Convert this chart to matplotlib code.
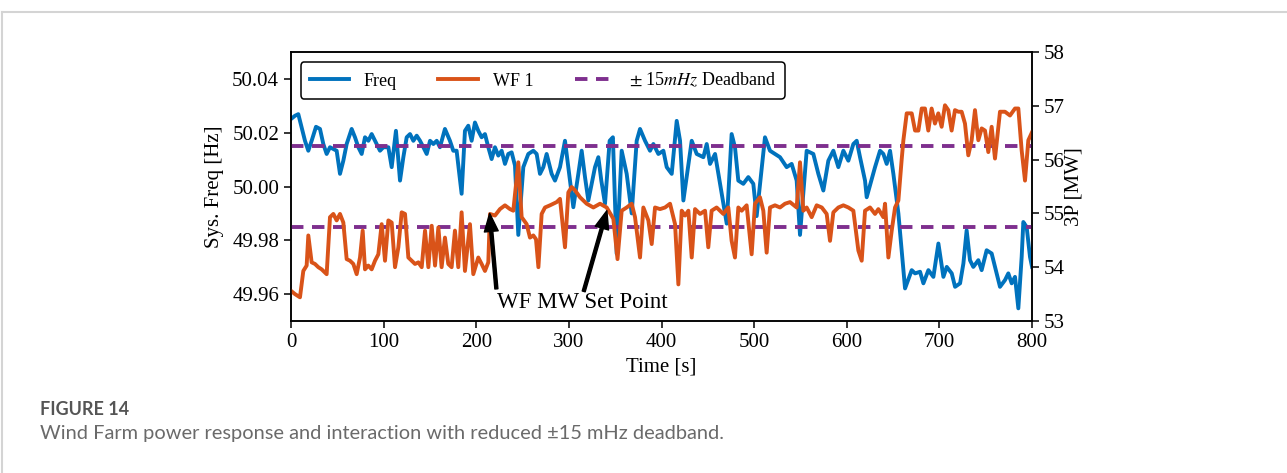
import numpy as np
import matplotlib
matplotlib.use("Agg")
import matplotlib.pyplot as plt
from matplotlib.lines import Line2D

plt.rcParams['font.family'] = ['Liberation Serif', 'DejaVu Serif']
plt.rcParams['mathtext.fontset'] = 'stix'

# system frequency [Hz]
t_freq = [0.0, 4.3, 7.9, 11.5, 15.1, 18.7, 22.3, 27.0, 31.3, 34.9, 38.5, 42.1, 49.3, 52.9,
          56.5, 60.1, 65.5, 69.1, 72.7, 76.3, 79.9, 83.5, 87.1, 92.5, 96.1, 99.7, 105.1,
          108.7, 113.3, 117.7, 121.3, 124.9, 128.5, 132.1, 135.7, 139.3, 142.9, 146.5,
          150.1, 153.7, 157.3, 160.8, 166.2, 171.6, 175.2, 178.8, 184.2, 187.8, 191.4,
          195.0, 198.6, 202.2, 205.8, 209.4, 213.0, 216.6, 220.2, 223.8, 227.4, 231.0,
          234.6, 238.2, 241.8, 245.4, 250.8, 256.2, 261.6, 265.2, 268.8, 272.4, 276.0,
          281.4, 285.0, 290.4, 295.8, 299.4, 304.8, 310.2, 313.8, 317.4, 321.0, 328.2,
          331.8, 335.0, 339.0, 344.0, 347.5, 351.6, 357.0, 362.4, 367.8, 373.2, 376.8,
          382.2, 387.6, 391.2, 396.6, 402.0, 405.6, 411.0, 416.4, 420.0, 423.6, 432.6,
          438.0, 445.2, 448.8, 452.4, 457.8, 463.2, 470.4, 475.7, 479.3, 482.9, 488.3,
          493.7, 499.1, 502.7, 511.7, 517.1, 522.5, 527.9, 535.1, 540.5, 545.9, 549.5,
          556.7, 563.9, 569.3, 574.7, 580.1, 585.5, 590.9, 596.3, 601.7, 607.1, 610.7,
          614.3, 619.7, 621.5, 630.5, 635.9, 639.5, 643.1, 646.7, 650.3, 655.7, 662.9,
          670.1, 673.7, 679.1, 682.7, 688.1, 693.5, 698.9, 704.3, 707.9, 713.3, 716.9,
          722.3, 725.9, 729.4, 733.0, 736.6, 742.0, 745.6, 751.0, 756.4, 761.8, 765.4,
          770.8, 774.4, 778.0, 781.6, 785.2, 788.8, 790.6, 794.2, 797.8, 800.0]
freq = [50.0251, 50.0263, 50.0269, 50.0220, 50.0170, 50.0133, 50.0170, 50.0222, 50.0214,
        50.0158, 50.0121, 50.0146, 50.0133, 50.0047, 50.0096, 50.0158, 50.0214, 50.0183,
        50.0146, 50.0121, 50.0183, 50.0170, 50.0195, 50.0158, 50.0133, 50.0146, 50.0146,
        50.0072, 50.0207, 50.0022, 50.0109, 50.0183, 50.0195, 50.0170, 50.0189, 50.0170,
        50.0146, 50.0121, 50.0170, 50.0158, 50.0170, 50.0146, 50.0214, 50.0170, 50.0133,
        50.0133, 49.9973, 50.0207, 50.0226, 50.0170, 50.0238, 50.0207, 50.0183, 50.0195,
        50.0146, 50.0102, 50.0146, 50.0115, 50.0133, 50.0084, 50.0121, 50.0127, 50.0078,
        49.9820, 50.0072, 50.0121, 50.0133, 50.0121, 50.0047, 50.0072, 50.0121, 50.0047,
        50.0022, 50.0072, 50.0170, 50.0072, 49.9923, 50.0047, 50.0133, 50.0035, 49.9948,
        50.0072, 50.0109, 50.0022, 49.9936, 50.0170, 50.0183, 49.9750, 50.0133, 50.0047,
        49.9900, 50.0170, 50.0214, 50.0170, 50.0133, 50.0158, 50.0121, 50.0133, 50.0072,
        50.0047, 50.0244, 50.0170, 49.9948, 50.0170, 50.0121, 50.0109, 50.0158, 50.0084,
        50.0121, 50.0010, 49.9862, 50.0195, 50.0146, 50.0022, 50.0010, 50.0035, 50.0010,
        49.9890, 50.0183, 50.0133, 50.0121, 50.0109, 50.0072, 50.0084, 50.0022, 49.9820,
        50.0133, 50.0121, 50.0047, 49.9985, 50.0096, 50.0133, 50.0072, 50.0133, 50.0096,
        50.0158, 50.0170, 50.0109, 50.0022, 49.9960, 50.0072, 50.0133, 50.0121, 50.0084,
        50.0133, 50.0047, 49.9900, 49.9621, 49.9689, 49.9677, 49.9683, 49.9640, 49.9689,
        49.9664, 49.9788, 49.9664, 49.9701, 49.9677, 49.9627, 49.9640, 49.9714, 49.9837,
        49.9726, 49.9701, 49.9726, 49.9689, 49.9763, 49.9751, 49.9677, 49.9627, 49.9652,
        49.9677, 49.9640, 49.9664, 49.9547, 49.9738, 49.9868, 49.9849, 49.9738, 49.9701]

# wind farm output [MW]
t_wf = [0.0, 4.3, 9.7, 13.3, 16.9, 18.7, 22.3, 25.9, 29.5, 33.1, 38.5, 42.1, 45.7, 49.3,
        52.9, 56.5, 60.1, 63.7, 67.3, 70.9, 74.5, 77.4, 79.9, 83.5, 87.1, 90.7, 94.3,
        97.9, 101.5, 105.1, 108.7, 112.3, 115.9, 119.5, 123.1, 126.7, 130.3, 133.9,
        137.5, 141.1, 144.7, 148.3, 151.9, 155.5, 159.1, 162.6, 166.2, 169.8, 173.4,
        177.0, 180.6, 184.2, 187.8, 193.2, 196.8, 202.2, 205.8, 209.4, 213.0, 214.8,
        220.2, 225.6, 231.0, 236.4, 240.0, 245.4, 249.0, 254.4, 258.0, 261.6, 264.5,
        267.1, 270.6, 274.2, 279.6, 286.8, 290.4, 295.8, 299.4, 303.0, 306.6, 312.0,
        319.2, 326.4, 333.6, 340.8, 348.0, 352.5, 357.0, 362.4, 367.8, 371.4, 376.8,
        380.4, 385.8, 389.4, 393.0, 398.4, 403.8, 409.2, 414.6, 418.2, 421.8, 425.4,
        429.0, 432.6, 436.2, 441.6, 447.0, 450.5, 454.1, 459.5, 463.1, 466.7, 472.1,
        475.7, 479.3, 482.9, 486.5, 491.9, 497.3, 500.9, 506.3, 509.9, 513.5, 517.1,
        522.5, 527.9, 533.3, 538.7, 545.9, 549.5, 553.1, 556.7, 562.1, 567.5, 573.0,
        578.3, 581.9, 585.5, 590.9, 596.3, 601.7, 607.1, 612.5, 616.1, 619.7, 625.1,
        630.5, 634.1, 639.5, 641.3, 644.9, 648.5, 652.1, 655.7, 659.2, 661.1, 664.7,
        670.1, 673.7, 677.3, 680.9, 684.4, 688.0, 691.6, 695.2, 698.8, 702.4, 706.0,
        709.6, 713.2, 716.8, 720.4, 724.0, 727.6, 731.2, 734.8, 738.4, 742.0, 745.6,
        749.2, 752.8, 756.4, 760.0, 765.4, 770.8, 776.2, 781.6, 785.2, 788.8, 792.4,
        796.0, 800.0]
wf = [53.56, 53.50, 53.44, 53.93, 54.03, 54.59, 54.09, 54.06, 54.00, 53.96, 53.87, 54.93,
      54.99, 54.87, 54.99, 54.83, 54.15, 54.12, 54.06, 53.87, 54.18, 54.68, 53.96, 54.03,
      53.96, 54.12, 54.24, 54.80, 54.12, 54.87, 54.83, 54.00, 54.37, 55.02, 54.99, 54.18,
      54.12, 54.06, 54.09, 54.00, 54.68, 54.00, 54.77, 54.03, 54.74, 54.00, 54.55, 54.06,
      54.00, 54.68, 54.00, 55.02, 53.93, 54.80, 53.87, 54.18, 54.06, 53.93, 54.09, 54.99,
      54.96, 55.08, 55.15, 55.08, 55.05, 55.95, 54.93, 54.80, 54.55, 54.59, 54.52, 54.00,
      54.99, 55.11, 55.15, 55.21, 55.27, 54.37, 55.39, 55.49, 55.43, 55.30, 55.18, 55.11,
      55.18, 55.11, 54.90, 54.15, 55.05, 55.11, 55.18, 54.93, 54.18, 55.11, 54.87, 54.43,
      55.11, 55.08, 55.11, 55.18, 54.80, 53.68, 55.05, 54.96, 55.05, 54.18, 55.08, 54.99,
      55.05, 54.37, 55.05, 55.11, 55.05, 54.99, 55.11, 54.49, 54.18, 55.11, 55.05, 55.15,
      54.24, 55.18, 55.30, 55.05, 54.27, 55.11, 55.15, 55.11, 55.18, 55.21, 55.11, 55.95,
      55.05, 55.11, 54.93, 55.15, 55.11, 54.99, 54.49, 55.02, 55.11, 55.15, 55.11, 55.05,
      54.31, 54.12, 55.05, 55.11, 54.99, 55.08, 54.93, 55.18, 54.18, 54.68, 55.11, 55.24,
      55.99, 56.36, 56.86, 56.86, 56.54, 56.54, 56.95, 56.95, 56.54, 56.95, 56.67, 56.86,
      56.61, 57.01, 56.92, 56.54, 56.92, 56.89, 56.89, 56.67, 56.08, 56.36, 56.92, 56.36,
      56.58, 56.54, 56.14, 56.61, 56.02, 56.89, 56.89, 56.82, 56.95, 56.95, 56.17, 55.61,
      56.36, 56.51]

deadband = [50.015, 49.985]
freq_ticks = [49.96, 49.98, 50.00, 50.02, 50.04]
mw_ticks = [53, 54, 55, 56, 57, 58]
time_ticks = [0, 100, 200, 300, 400, 500, 600, 700, 800]

c_freq = '#0072BD'
c_wf = '#D95319'
c_db = '#7E2F8E'

fig = plt.figure(figsize=(12.87, 4.73), dpi=100)
ax = fig.add_axes([0.2261, 0.3214, 0.5758, 0.5686])
ax2 = ax.twinx()

lf, = ax.plot(t_freq, freq, color=c_freq, lw=2.8, label='Freq')
for d in deadband:
    ld, = ax.plot([0, 800], [d, d], color=c_db, lw=2.8, ls=(0, (3.2, 2.2)),
                  label=r'$\pm$ 15$mHz$ Deadband', zorder=5)
lw, = ax2.plot(t_wf, wf, color=c_wf, lw=2.8, label='WF 1')

ax.set_xlim(0, 800)
ax.set_ylim(49.95, 50.05)
ax2.set_ylim(53, 58)
ax.set_xticks(time_ticks)
ax.set_yticks(freq_ticks)
ax.set_yticklabels([f'{v:.2f}' for v in freq_ticks])
ax2.set_yticks(mw_ticks)

for a in (ax, ax2):
    a.tick_params(labelsize=15, length=5, width=1.1)
    for s in a.spines.values():
        s.set_linewidth(1.1)

ax.set_xlabel('Time [s]', fontsize=15, labelpad=4)
ax.set_ylabel('Sys. Freq [Hz]', fontsize=15, labelpad=6)
ax2.set_ylabel('3P [MW]', fontsize=15, labelpad=0)

# arrows pointing at the set point changes
ax2.annotate('WF MW Set Point', xy=(214.5, 55.0), xytext=(222, 53.35),
             fontsize=16.5, ha='left', va='center',
             arrowprops=dict(facecolor='black', edgecolor='black', width=2.2,
                             headwidth=10, headlength=13, shrink=0.0),
             zorder=6)
ax2.annotate('', xy=(341, 55.05), xytext=(316, 53.55),
             arrowprops=dict(facecolor='black', edgecolor='black', width=2.2,
                             headwidth=10, headlength=13, shrink=0.0),
             zorder=6)

leg = ax2.legend([lf, lw, ld], ['Freq', 'WF 1', r'$\pm$ 15$mHz$ Deadband'],
                 loc='upper left', ncol=3, fontsize=13, handlelength=2.2,
                 handletextpad=0.8, columnspacing=2.3, frameon=True, fancybox=True,
                 bbox_to_anchor=(0.008, 0.975), borderaxespad=0.2, borderpad=0.5)
leg.get_frame().set_edgecolor('black')
leg.get_frame().set_linewidth(1.1)
leg.get_frame().set_alpha(1.0)

# card border and caption
fig.add_artist(Line2D([2 / 1287, 1], [1 - 12 / 473, 1 - 12 / 473], color='#d4d4d4', lw=1.5))
fig.add_artist(Line2D([2 / 1287, 2 / 1287], [0, 1 - 12 / 473], color='#d4d4d4', lw=1.5))
fig.text(40 / 1287, 1 - 409 / 473, 'FIGURE 14', fontsize=13, color='#555555',
         family='Lato', weight='bold', va='center', ha='left')
fig.text(40 / 1287, 1 - 434 / 473,
         'Wind Farm power response and interaction with reduced \u00b115 mHz deadband.',
         fontsize=14.4, color='#6a6a6a', family='Lato', va='center', ha='left')

fig.savefig('out.png', dpi=100)
